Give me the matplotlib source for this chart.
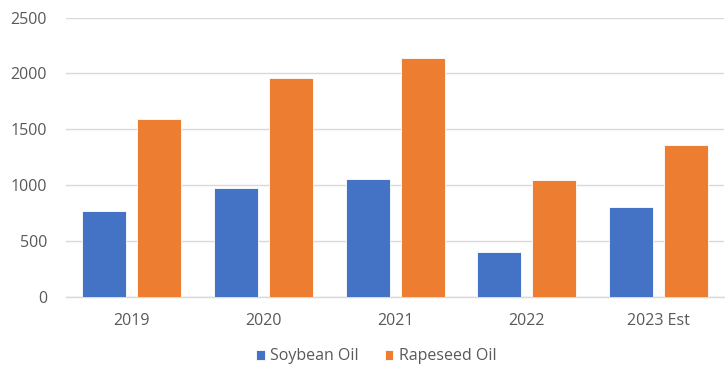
import matplotlib
matplotlib.use("Agg")
import matplotlib.pyplot as plt
import numpy as np

years = ["2019", "2020", "2021", "2022", "2023 Est"]
soybean_oil = [763, 973, 1056, 398, 802]
rapeseed_oil = [1592, 1960, 2140, 1045, 1355]
y_ticks = [0, 500, 1000, 1500, 2000, 2500]

blue = "#4472C4"
orange = "#ED7D31"
text_col = "#595959"
grid_col = "#D9D9D9"

plt.rcParams["font.family"] = ["Open Sans", "DejaVu Sans"]

fig = plt.figure(figsize=(7.25, 3.68), dpi=100)
ax = fig.add_axes([0.091, 0.1938, 0.908, 0.7586])

x = np.arange(len(years))
w = 0.335
off = 0.209
b1 = ax.bar(x - off, soybean_oil, w, color=blue, edgecolor="white", linewidth=0.6,
            label="Soybean Oil", zorder=3)
b2 = ax.bar(x + off, rapeseed_oil, w, color=orange, edgecolor="white", linewidth=0.6,
            label="Rapeseed Oil", zorder=3)

ax.set_xlim(-0.5, len(years) - 0.5)
ax.set_ylim(0, 2500)
ax.set_yticks(y_ticks)
ax.set_yticklabels([str(v) for v in y_ticks])
ax.set_xticks(x)
ax.set_xticklabels(years)
ax.yaxis.grid(True, color=grid_col, linewidth=1.0, zorder=0)
ax.set_axisbelow(True)
for s in ["top", "right", "left"]:
    ax.spines[s].set_visible(False)
ax.spines["bottom"].set_color(grid_col)
ax.spines["bottom"].set_linewidth(1.0)
ax.tick_params(axis="both", length=0, colors=text_col, labelsize=11.5)
ax.tick_params(axis="y", pad=13.5)
ax.tick_params(axis="x", pad=12)

fig.legend(handles=[b1, b2], labels=["Soybean Oil", "Rapeseed Oil"],
           loc="lower center", bbox_to_anchor=(0.519, -0.012), ncol=2, frameon=False,
           fontsize=11.5, labelcolor=text_col, handlelength=0.55, handleheight=0.55,
           handletextpad=0.35, columnspacing=1.6, borderpad=0.0)

fig.savefig("out.png", dpi=100)
